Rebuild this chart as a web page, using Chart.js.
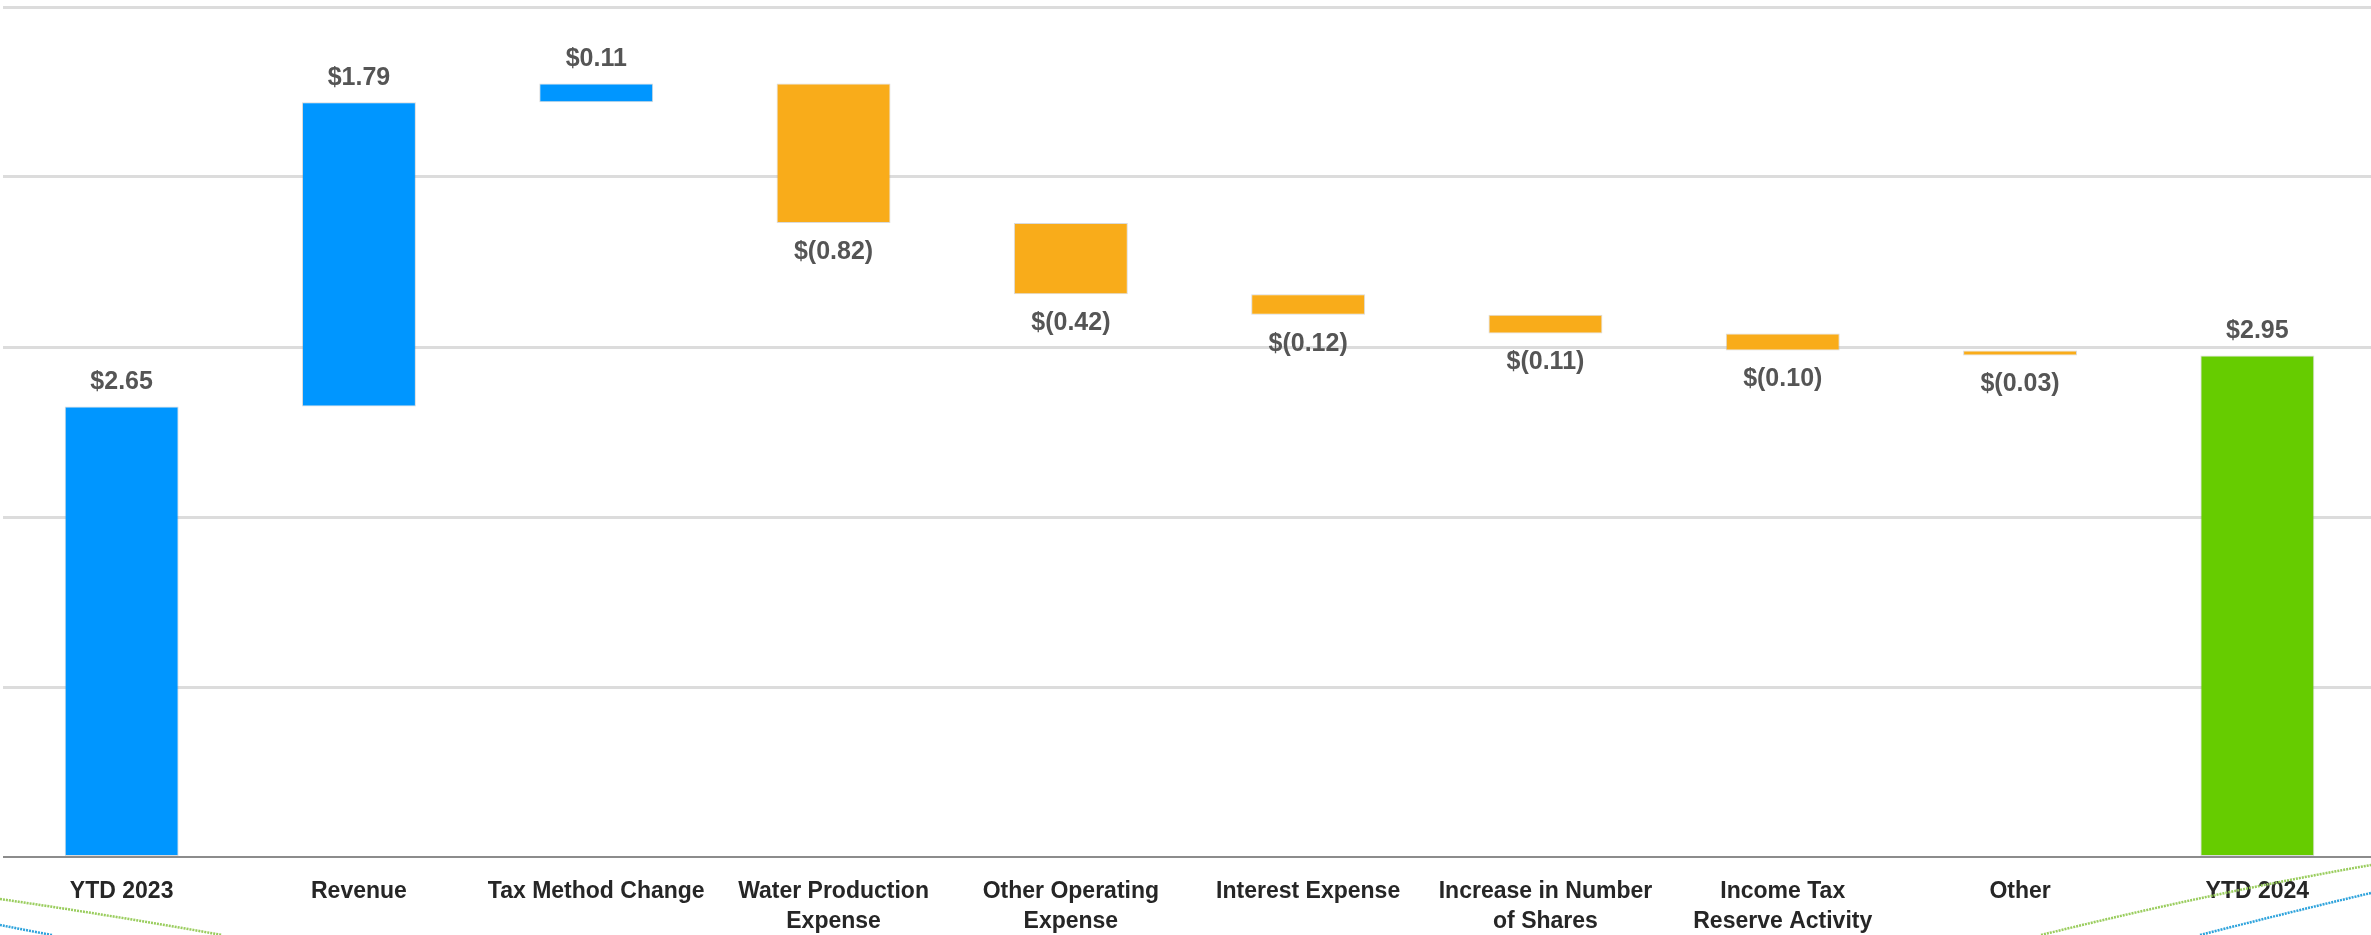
<!DOCTYPE html>
<html>
<head>
<meta charset="utf-8">
<script src="https://cdn.jsdelivr.net/npm/chart.js@4/dist/chart.umd.min.js"></script>
<style>
  html, body { margin: 0; padding: 0; background: #fff; overflow: hidden; }
  #wrap { position: absolute; left: 0; top: 0; width: 2376px; height: 935px; }
</style>
</head>
<body>
<div id="wrap"><canvas id="bridgeChart" width="2376" height="935"></canvas></div>
<script>
// categories along the x axis
var categories = [
    ["YTD 2023"], ["Revenue"], ["Tax Method Change"], ["Water Production", "Expense"],
    ["Other Operating", "Expense"], ["Interest Expense"], ["Increase in Number", "of Shares"],
    ["Income Tax", "Reserve Activity"], ["Other"], ["YTD 2024"]
];
// EPS values
var startValue = 2.65;
var changes = [1.79, 0.11, -0.82, -0.42, -0.12, -0.11, -0.10, -0.03];
var endValue = 2.95;
// y axis ticks (labels hidden on the slide)
var yTicks = [0, 1, 2, 3, 4, 5];

var blue = "#0096FF", orange = "#F9AC1A", green = "#66CC00";

// build floating ranges for the waterfall
var ranges = [[0, startValue]], labels = [startValue], colors = [blue];
var running = startValue;
for (var i = 0; i < changes.length; i++) {
    ranges.push([running, running + changes[i]]);
    labels.push(changes[i]);
    colors.push(changes[i] >= 0 ? blue : orange);
    running += changes[i];
}
ranges.push([0, endValue]);
labels.push(endValue);
colors.push(green);

function money(v) {
    return v < 0 ? "$(" + Math.abs(v).toFixed(2) + ")" : "$" + v.toFixed(2);
}

var FONT = "'Liberation Sans', Arial, sans-serif";

// value labels above rising bars, below falling bars
var valueLabels = {
    id: "valueLabels",
    afterDatasetsDraw: function (chart) {
        var ctx = chart.ctx;
        var meta = chart.getDatasetMeta(0);
        ctx.save();
        ctx.font = "bold 25px " + FONT;
        ctx.fillStyle = "#555555";
        ctx.textAlign = "center";
        ctx.textBaseline = "middle";
        meta.data.forEach(function (bar, idx) {
            var v = labels[idx];
            var top = Math.min(bar.y, bar.base), bottom = Math.max(bar.y, bar.base);
            if (v >= 0) ctx.fillText(money(v), bar.x, top - 24);
            else ctx.fillText(money(v), bar.x, bottom + 29);
        });
        ctx.restore();
    }
};

// slide template swooshes in the bottom corners
var swooshes = {
    id: "swooshes",
    afterDraw: function (chart) {
        var ctx = chart.ctx, w = 2371, h = chart.height;
        ctx.save();
        ctx.lineWidth = 2.5;
        ctx.setLineDash([2, 1]);
        ctx.strokeStyle = "#9ACD5E";
        ctx.beginPath(); ctx.moveTo(0, h - 36); ctx.quadraticCurveTo(110, h - 20, 222, h); ctx.stroke();
        ctx.beginPath(); ctx.moveTo(w - 330, h); ctx.quadraticCurveTo(w - 160, h - 42, w, h - 70); ctx.stroke();
        ctx.strokeStyle = "#2EA3DC";
        ctx.beginPath(); ctx.moveTo(0, h - 10); ctx.quadraticCurveTo(25, h - 5, 52, h); ctx.stroke();
        ctx.beginPath(); ctx.moveTo(w - 171, h); ctx.quadraticCurveTo(w - 85, h - 22, w, h - 42); ctx.stroke();
        ctx.restore();
    }
};

var chartCanvas = document.getElementById("bridgeChart").getContext("2d");
var myChart = new Chart(chartCanvas, {
    type: "bar",
    data: {
        labels: categories,
        datasets: [{
            data: ranges,
            backgroundColor: colors,
            borderColor: "rgba(150,150,150,0.35)",
            borderWidth: 1,
            borderSkipped: false,
            categoryPercentage: 1,
            barPercentage: 0.48
        }]
    },
    options: {
        responsive: false,
        animation: false,
        devicePixelRatio: 1,
        layout: { padding: { left: 3, top: 7, right: 0, bottom: 0 } },
        plugins: { legend: { display: false }, tooltip: { enabled: false } },
        scales: {
            x: {
                grid: { display: false, drawTicks: false },
                border: { display: false },
                ticks: {
                    color: "#262626",
                    font: { family: FONT, size: 23, weight: "bold", lineHeight: 1.3 },
                    padding: 20,
                    maxRotation: 0,
                    autoSkip: false
                },
                afterFit: function (scale) { scale.height = 78; }
            },
            y: {
                min: yTicks[0],
                max: yTicks[yTicks.length - 1],
                afterBuildTicks: function (scale) {
                    scale.ticks = yTicks.map(function (v) { return { value: v }; });
                },
                ticks: { display: false },
                border: { display: false },
                grid: {
                    drawTicks: false,
                    color: function (c) { return c.tick && c.tick.value === 0 ? "#8C8C8C" : "#DCDCDC"; },
                    lineWidth: function (c) { return c.tick && c.tick.value === 0 ? 2 : 3; }
                },
                afterFit: function (scale) { scale.width = 0; }
            }
        }
    },
    plugins: [valueLabels, swooshes]
});
</script>
</body>
</html>
